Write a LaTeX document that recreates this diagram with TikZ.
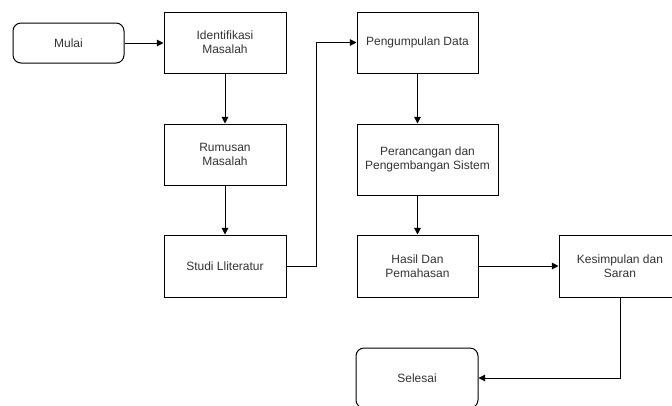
\documentclass[tikz,border=0pt]{standalone}
\usepackage{fontspec}
\setmainfont{Liberation Sans}
\usetikzlibrary{arrows.meta}
\definecolor{txt}{HTML}{333333}
\begin{document}
\begin{tikzpicture}[x=0.75pt,y=-0.75pt,
  box/.style={draw=black,line width=0.75pt,rectangle,inner sep=0pt,align=center,
    font=\fontsize{9}{10.5}\selectfont,text=txt},
  term/.style={box,rounded corners=6pt},
  arr/.style={draw=black,line width=0.75pt,-{Triangle[length=5pt,width=5pt]}}]
\useasboundingbox (0,0) rectangle (672,405);
\clip (0,0) rectangle (672,405);
\node[term,minimum width=111*0.75pt,minimum height=40*0.75pt] (mulai) at (68.5,43) {Mulai};
\node[box,minimum width=122*0.75pt,minimum height=61*0.75pt] (ident) at (225,42.5) {Identifikasi\\Masalah};
\node[box,minimum width=122*0.75pt,minimum height=61*0.75pt] (rumus) at (225,154.5) {Rumusan\\Masalah};
\node[box,minimum width=122*0.75pt,minimum height=62*0.75pt] (studi) at (225,266) {Studi Lliteratur};
\node[box,minimum width=121*0.75pt,minimum height=61*0.75pt] (peng) at (417.5,42.5) {Pengumpulan Data};
\node[box,minimum width=141*0.75pt,minimum height=71*0.75pt] (peran) at (427.5,159.5) {Perancangan dan\\Pengembangan Sistem};
\node[box,minimum width=121*0.75pt,minimum height=62*0.75pt] (hasil) at (417.5,266) {Hasil Dan\\Pemahasan};
\node[box,minimum width=122*0.75pt,minimum height=62*0.75pt] (kes) at (620,266) {Kesimpulan dan\\Saran};
\node[term,minimum width=122*0.75pt,minimum height=60*0.75pt] (selesai) at (417,378) {Selesai};
\draw[arr] (mulai.east) -- (mulai.east -| ident.west);
\draw[arr] (ident.south) -- (rumus.north);
\draw[arr] (rumus.south) -- (studi.north);
\coordinate (bend) at (316,266);
\draw[arr] (studi.east) -- (bend) |- (peng.west);
\draw[arr] (peng.south) -- (peng.south |- peran.north);
\draw[arr] (peran.south -| hasil.north) -- (hasil.north);
\draw[arr] (hasil.east) -- (kes.west);
\draw[arr] (kes.south) |- (selesai.east);
\end{tikzpicture}
\end{document}
